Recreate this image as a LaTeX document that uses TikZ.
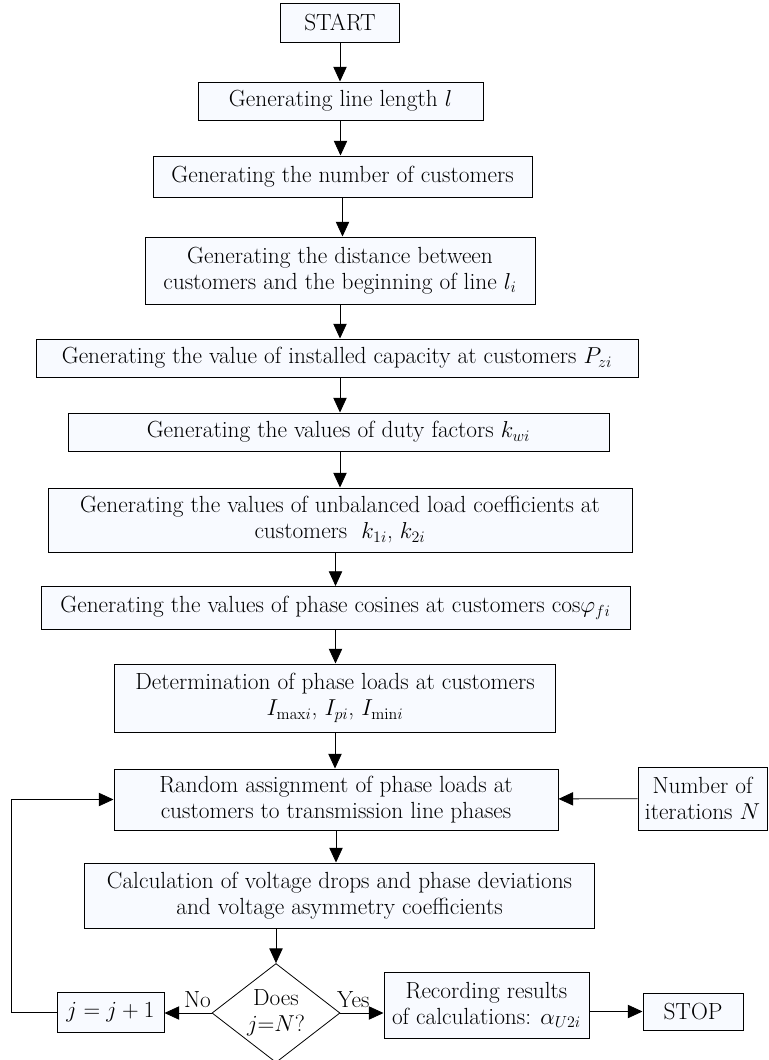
\documentclass[tikz,border=0pt]{standalone}
\usepackage{amsmath}
\usepackage{tikz}
\usetikzlibrary{arrows.meta}
\usetikzlibrary{shapes.geometric}
\usetikzlibrary{calc,positioning}

\begin{document}
\begin{tikzpicture}[x=0.75pt, y=-0.75pt,
    font=\fontsize{17.5}{19.5}\selectfont,
    box/.style={draw, line width=0.75pt, fill=boxfill, align=center, inner sep=1pt},
    arr/.style={line width=0.6pt, -{Triangle[length=11pt,width=10pt]}}]
            \definecolor{boxfill}{RGB}{248,250,255};
            \useasboundingbox (0,0) rectangle (768,1060);

            \node (start) at (340,22.5) [box, minimum width=89.25pt, minimum height=29.25pt] {START};
            \node (len) at (340.5,101) [box, minimum width=213.75pt, minimum height=28.5pt] {Generating line length $l$};
            \node (num) at (342.5,176.5) [box, minimum width=284.25pt, minimum height=30.75pt] {Generating the number of customers};
            \node (dist) at (340,270.5) [box, minimum width=292.5pt, minimum height=50.25pt] {Generating the distance between\\customers and the beginning of line $l_i$};
            \node (cap) at (337,358) [box, minimum width=451.5pt, minimum height=28.5pt] {Generating the value of installed capacity at customers $P_{zi}$};
            \node (duty) at (338.5,432) [box, minimum width=405.75pt, minimum height=28.5pt] {Generating the values of duty factors $k_{wi}$};
            \node (unbal) at (340,520) [box, minimum width=438pt, minimum height=48pt] {Generating the values of unbalanced load coefficients at\\customers\ \ $k_{1i}$, $k_{2i}$};
            \node (cosf) at (335.5,608) [box, minimum width=441.75pt, minimum height=32.25pt] {Generating the values of phase cosines at customers cos$\varphi_{fi}$};
            \node (det) at (335,698) [box, minimum width=330.75pt, minimum height=51pt] {Determination of phase loads at customers\\$I_{\mathrm{max}i}$, $I_{pi}$, $I_{\mathrm{min}i}$};
            \node (rand) at (336,799.5) [box, minimum width=333pt, minimum height=45.75pt] {Random assignment of phase loads at\\customers to transmission line phases};
            \node (iter) at (702.5,798.5) [box, minimum width=96.75pt, minimum height=47.25pt] {Number of\\iterations $N$};
            \node (calc) at (339.5,895.5) [box, minimum width=382.5pt, minimum height=48.75pt] {Calculation of voltage drops and phase deviations\\and voltage asymmetry coefficients};
            \node (dec) at (276,1013) [draw, line width=0.6pt, fill=white, diamond, aspect=1.29, minimum width=96pt, minimum height=74.25pt, inner sep=0pt, align=center] {Does\\$j$=$N$?};
            \node (jinc) at (110.5,1012) [box, minimum width=80.25pt, minimum height=30pt] {$j = j + 1$};
            \node (rec) at (486.5,1005) [box, minimum width=153.75pt, minimum height=49.5pt] {Recording results\\of calculations: $\alpha_{U2i}$};
            \node (stop) at (693,1011.5) [box, minimum width=75pt, minimum height=27.75pt] {STOP};
            \coordinate (loop) at (11,1012);

            \draw [arr] (start) -- (start |- len.north);
            \draw [arr] (len) -- (len |- num.north);
            \draw [arr] (num) -- (num |- dist.north);
            \draw [arr] (dist) -- (dist |- cap.north);
            \draw [arr] (cap.south -| dist) -- (dist |- duty.north);
            \draw [arr] (duty.south -| dist) -- (dist |- unbal.north);
            \draw [arr] (unbal.south -| cosf) -- (cosf.north);
            \draw [arr] (cosf) -- (cosf |- det.north);
            \draw [arr] (det) -- (det |- rand.north);
            \draw [arr] (rand) -- (rand |- calc.north);
            \draw [arr] (dec |- calc.south) -- (dec.north);
            \draw [arr] (iter) -- (rand);
            \draw [arr] (dec.west) -- (dec.west -| jinc.east) node [pos=0.3, above] {No};
            \draw [arr] (dec.east) -- (dec.east -| rec.west) node [pos=0.3, above] {Yes};
            \draw [arr] (stop -| rec.east) -- (stop.west);
            \draw [arr] (jinc.west) -- (loop) |- (rand.west);
\end{tikzpicture}
\end{document}
